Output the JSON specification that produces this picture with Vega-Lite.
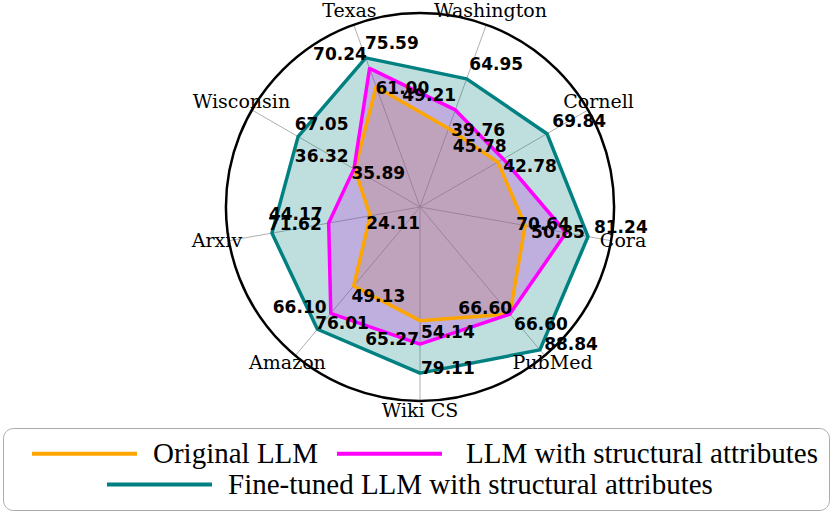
{
  "$schema": "https://vega.github.io/schema/vega-lite/v6.json",
  "width": 388,
  "height": 388,
  "autosize": {"type": "none"},
  "padding": {"left": 226, "top": 13, "right": 226, "bottom": 118},
  "background": "white",
  "config": {"view": {"stroke": null}},
  "datasets": {
    "scores": [
      {"dataset": "Texas", "series": "Original LLM", "value": 61.00},
      {"dataset": "Washington", "series": "Original LLM", "value": 39.76},
      {"dataset": "Cornell", "series": "Original LLM", "value": 42.78},
      {"dataset": "Cora", "series": "Original LLM", "value": 50.85},
      {"dataset": "PubMed", "series": "Original LLM", "value": 66.60},
      {"dataset": "Wiki CS", "series": "Original LLM", "value": 54.14},
      {"dataset": "Amazon", "series": "Original LLM", "value": 49.13},
      {"dataset": "Arxiv", "series": "Original LLM", "value": 24.11},
      {"dataset": "Wisconsin", "series": "Original LLM", "value": 35.89},
      {"dataset": "Texas", "series": "LLM with structural attributes", "value": 70.24},
      {"dataset": "Washington", "series": "LLM with structural attributes", "value": 49.21},
      {"dataset": "Cornell", "series": "LLM with structural attributes", "value": 45.78},
      {"dataset": "Cora", "series": "LLM with structural attributes", "value": 70.64},
      {"dataset": "PubMed", "series": "LLM with structural attributes", "value": 66.60},
      {"dataset": "Wiki CS", "series": "LLM with structural attributes", "value": 65.27},
      {"dataset": "Amazon", "series": "LLM with structural attributes", "value": 66.10},
      {"dataset": "Arxiv", "series": "LLM with structural attributes", "value": 44.17},
      {"dataset": "Wisconsin", "series": "LLM with structural attributes", "value": 36.32},
      {"dataset": "Texas", "series": "Fine-tuned LLM with structural attributes", "value": 75.59},
      {"dataset": "Washington", "series": "Fine-tuned LLM with structural attributes", "value": 64.95},
      {"dataset": "Cornell", "series": "Fine-tuned LLM with structural attributes", "value": 69.84},
      {"dataset": "Cora", "series": "Fine-tuned LLM with structural attributes", "value": 81.24},
      {"dataset": "PubMed", "series": "Fine-tuned LLM with structural attributes", "value": 88.84},
      {"dataset": "Wiki CS", "series": "Fine-tuned LLM with structural attributes", "value": 79.11},
      {"dataset": "Amazon", "series": "Fine-tuned LLM with structural attributes", "value": 76.01},
      {"dataset": "Arxiv", "series": "Fine-tuned LLM with structural attributes", "value": 71.62},
      {"dataset": "Wisconsin", "series": "Fine-tuned LLM with structural attributes", "value": 67.05}
    ],
    "axes": [
      {"dataset": "Texas"},
      {"dataset": "Washington"},
      {"dataset": "Cornell"},
      {"dataset": "Cora"},
      {"dataset": "PubMed"},
      {"dataset": "Wiki CS"},
      {"dataset": "Amazon"},
      {"dataset": "Arxiv"},
      {"dataset": "Wisconsin"}
    ],
    "frame": [{"frame": "outer circle"}]
  },
  "layer": [
    {
      "data": {"name": "axes"},
      "transform": [
        {"calculate": "indexof(['Texas','Washington','Cornell','Cora','PubMed','Wiki CS','Amazon','Arxiv','Wisconsin'], datum.dataset)", "as": "idx"},
        {"calculate": "(datum.idx*40-20)*PI/180", "as": "ang"},
        {"calculate": "92.4*sin(datum.ang)", "as": "sx"},
        {"calculate": "92.4*cos(datum.ang)", "as": "sy"}
      ],
      "mark": {"type": "rule", "color": "#b0b0b0", "strokeWidth": 1},
      "encoding": {
        "x": {"field": "sx", "type": "quantitative", "scale": {"domain": [-92.4, 92.4], "nice": false, "zero": false}, "axis": null},
        "y": {"field": "sy", "type": "quantitative", "scale": {"domain": [-92.4, 92.4], "nice": false, "zero": false}, "axis": null},
        "x2": {"datum": 0},
        "y2": {"datum": 0}
      }
    },
    {
      "data": {"name": "frame"},
      "mark": {"type": "arc", "theta": 6.2832, "outerRadius": 194, "innerRadius": 0, "filled": false, "fillOpacity": 0, "stroke": "black", "strokeWidth": 2.5},
      "encoding": {}
    },
    {
      "data": {"name": "scores"},
      "transform": [
        {"calculate": "indexof(['Texas','Washington','Cornell','Cora','PubMed','Wiki CS','Amazon','Arxiv','Wisconsin'], datum.dataset)", "as": "idx"},
        {"calculate": "(datum.idx*40-20)*PI/180", "as": "ang"},
        {"calculate": "datum.value*sin(datum.ang)", "as": "px"},
        {"calculate": "datum.value*cos(datum.ang)", "as": "py"},
        {"calculate": "(datum.value+2.4)*sin(datum.ang)", "as": "lx"},
        {"calculate": "(datum.value+2.4)*cos(datum.ang)", "as": "ly"}
      ],
      "layer": [
        {
          "transform": [{"filter": "datum.series === 'Original LLM'"}],
          "mark": {"type": "line", "interpolate": "linear-closed", "fill": "#FFA500", "fillOpacity": 0.25, "strokeWidth": 0, "strokeOpacity": 0},
          "encoding": {
            "x": {"field": "px", "type": "quantitative", "scale": {"domain": [-92.4, 92.4], "nice": false, "zero": false}, "axis": null},
            "y": {"field": "py", "type": "quantitative", "scale": {"domain": [-92.4, 92.4], "nice": false, "zero": false}, "axis": null},
            "order": {"field": "idx", "type": "quantitative"}
          }
        },
        {
          "transform": [{"filter": "datum.series === 'LLM with structural attributes'"}],
          "mark": {"type": "line", "interpolate": "linear-closed", "fill": "#FF00FF", "fillOpacity": 0.25, "strokeWidth": 0, "strokeOpacity": 0},
          "encoding": {
            "x": {"field": "px", "type": "quantitative", "scale": {"domain": [-92.4, 92.4], "nice": false, "zero": false}, "axis": null},
            "y": {"field": "py", "type": "quantitative", "scale": {"domain": [-92.4, 92.4], "nice": false, "zero": false}, "axis": null},
            "order": {"field": "idx", "type": "quantitative"}
          }
        },
        {
          "transform": [{"filter": "datum.series === 'Fine-tuned LLM with structural attributes'"}],
          "mark": {"type": "line", "interpolate": "linear-closed", "fill": "#008080", "fillOpacity": 0.25, "strokeWidth": 0, "strokeOpacity": 0},
          "encoding": {
            "x": {"field": "px", "type": "quantitative", "scale": {"domain": [-92.4, 92.4], "nice": false, "zero": false}, "axis": null},
            "y": {"field": "py", "type": "quantitative", "scale": {"domain": [-92.4, 92.4], "nice": false, "zero": false}, "axis": null},
            "order": {"field": "idx", "type": "quantitative"}
          }
        },
        {
          "transform": [{"filter": "datum.series === 'Original LLM'"}],
          "mark": {"type": "line", "interpolate": "linear-closed", "strokeWidth": 3.5, "strokeJoin": "round"},
          "encoding": {
            "x": {"field": "px", "type": "quantitative", "scale": {"domain": [-92.4, 92.4], "nice": false, "zero": false}, "axis": null},
            "y": {"field": "py", "type": "quantitative", "scale": {"domain": [-92.4, 92.4], "nice": false, "zero": false}, "axis": null},
            "order": {"field": "idx", "type": "quantitative"},
            "color": {
              "field": "series", "type": "nominal",
              "scale": {"domain": ["Original LLM", "LLM with structural attributes"], "range": ["#FFA500", "#FF00FF"]},
              "legend": {"orient": "none", "legendX": -223, "legendY": 415, "direction": "horizontal", "columns": 2, "title": "\u00a0", "titleOrient": "bottom", "titleFontSize": 28, "titlePadding": 2, "symbolType": "M-5,0H5", "symbolSize": 441, "symbolStrokeWidth": 4, "symbolOffset": 56, "labelFont": "Liberation Serif", "labelFontSize": 29, "labelColor": "black", "labelOffset": 54, "labelLimit": 1000, "columnPadding": -26, "padding": 11, "strokeColor": "#aaaaaa", "cornerRadius": 10,
                "encode": {"labels": {"update": {"dx": {"signal": "datum.value === 'LLM with structural attributes' ? 8 : 0"}}}}}
            }
          }
        },
        {
          "transform": [{"filter": "datum.series === 'LLM with structural attributes'"}],
          "mark": {"type": "line", "interpolate": "linear-closed", "strokeWidth": 3.5, "strokeJoin": "round"},
          "encoding": {
            "x": {"field": "px", "type": "quantitative", "scale": {"domain": [-92.4, 92.4], "nice": false, "zero": false}, "axis": null},
            "y": {"field": "py", "type": "quantitative", "scale": {"domain": [-92.4, 92.4], "nice": false, "zero": false}, "axis": null},
            "order": {"field": "idx", "type": "quantitative"},
            "color": {
              "field": "series", "type": "nominal",
              "scale": {"domain": ["Original LLM", "LLM with structural attributes"], "range": ["#FFA500", "#FF00FF"]},
              "legend": {"orient": "none", "legendX": -223, "legendY": 415, "direction": "horizontal", "columns": 2, "title": "\u00a0", "titleOrient": "bottom", "titleFontSize": 28, "titlePadding": 2, "symbolType": "M-5,0H5", "symbolSize": 441, "symbolStrokeWidth": 4, "symbolOffset": 56, "labelFont": "Liberation Serif", "labelFontSize": 29, "labelColor": "black", "labelOffset": 54, "labelLimit": 1000, "columnPadding": -26, "padding": 11, "strokeColor": "#aaaaaa", "cornerRadius": 10,
                "encode": {"labels": {"update": {"dx": {"signal": "datum.value === 'LLM with structural attributes' ? 8 : 0"}}}}}
            }
          }
        },
        {
          "transform": [{"filter": "datum.series === 'Fine-tuned LLM with structural attributes'"}],
          "mark": {"type": "line", "interpolate": "linear-closed", "strokeWidth": 3.5, "strokeJoin": "round"},
          "encoding": {
            "x": {"field": "px", "type": "quantitative", "scale": {"domain": [-92.4, 92.4], "nice": false, "zero": false}, "axis": null},
            "y": {"field": "py", "type": "quantitative", "scale": {"domain": [-92.4, 92.4], "nice": false, "zero": false}, "axis": null},
            "order": {"field": "idx", "type": "quantitative"},
            "stroke": {
              "field": "series", "type": "nominal",
              "scale": {"domain": ["Fine-tuned LLM with structural attributes"], "range": ["#008080"]},
              "legend": {"orient": "none", "legendX": -137, "legendY": 457, "direction": "horizontal", "title": null, "symbolType": "M-5,0H5", "symbolSize": 441, "symbolStrokeWidth": 4, "symbolOffset": 56, "labelFont": "Liberation Serif", "labelFontSize": 29, "labelColor": "black", "labelOffset": 54, "labelLimit": 1000, "padding": 0}
            }
          }
        },
        {
          "transform": [{"filter": "datum.series === 'Original LLM'"}],
          "mark": {"type": "text", "font": "DejaVu Sans", "fontWeight": "bold", "fontSize": 17, "align": "left", "baseline": "top", "dx": 1, "dy": -1, "fill": "black"},
          "encoding": {
            "x": {"field": "lx", "type": "quantitative", "scale": {"domain": [-92.4, 92.4], "nice": false, "zero": false}, "axis": null},
            "y": {"field": "ly", "type": "quantitative", "scale": {"domain": [-92.4, 92.4], "nice": false, "zero": false}, "axis": null},
            "text": {"field": "value", "type": "quantitative", "format": ".2f"}
          }
        },
        {
          "transform": [{"filter": "datum.series === 'LLM with structural attributes'"}],
          "mark": {"type": "text", "font": "DejaVu Sans", "fontWeight": "bold", "fontSize": 17, "align": "right", "baseline": "bottom", "dx": -1, "fill": "black"},
          "encoding": {
            "x": {"field": "lx", "type": "quantitative", "scale": {"domain": [-92.4, 92.4], "nice": false, "zero": false}, "axis": null},
            "y": {"field": "ly", "type": "quantitative", "scale": {"domain": [-92.4, 92.4], "nice": false, "zero": false}, "axis": null},
            "text": {"field": "value", "type": "quantitative", "format": ".2f"}
          }
        },
        {
          "transform": [{"filter": "datum.series === 'Fine-tuned LLM with structural attributes'"}],
          "mark": {"type": "text", "font": "DejaVu Sans", "fontWeight": "bold", "fontSize": 17, "align": "left", "baseline": "bottom", "dx": 1, "fill": "black"},
          "encoding": {
            "x": {"field": "lx", "type": "quantitative", "scale": {"domain": [-92.4, 92.4], "nice": false, "zero": false}, "axis": null},
            "y": {"field": "ly", "type": "quantitative", "scale": {"domain": [-92.4, 92.4], "nice": false, "zero": false}, "axis": null},
            "text": {"field": "value", "type": "quantitative", "format": ".2f"}
          }
        }
      ]
    },
    {
      "data": {"name": "axes"},
      "transform": [
        {"calculate": "indexof(['Texas','Washington','Cornell','Cora','PubMed','Wiki CS','Amazon','Arxiv','Wisconsin'], datum.dataset)", "as": "idx"},
        {"calculate": "(datum.idx*40-20)*PI/180", "as": "ang"},
        {"calculate": "98.2*sin(datum.ang)", "as": "tx"},
        {"calculate": "98.2*cos(datum.ang)", "as": "ty"}
      ],
      "mark": {"type": "text", "font": "DejaVu Serif", "fontSize": 19, "align": "center", "baseline": "middle", "dy": -2, "fill": "black"},
      "encoding": {
        "x": {"field": "tx", "type": "quantitative", "scale": {"domain": [-92.4, 92.4], "nice": false, "zero": false}, "axis": null},
        "y": {"field": "ty", "type": "quantitative", "scale": {"domain": [-92.4, 92.4], "nice": false, "zero": false}, "axis": null},
        "text": {"field": "dataset", "type": "nominal"}
      }
    }
  ]
}
